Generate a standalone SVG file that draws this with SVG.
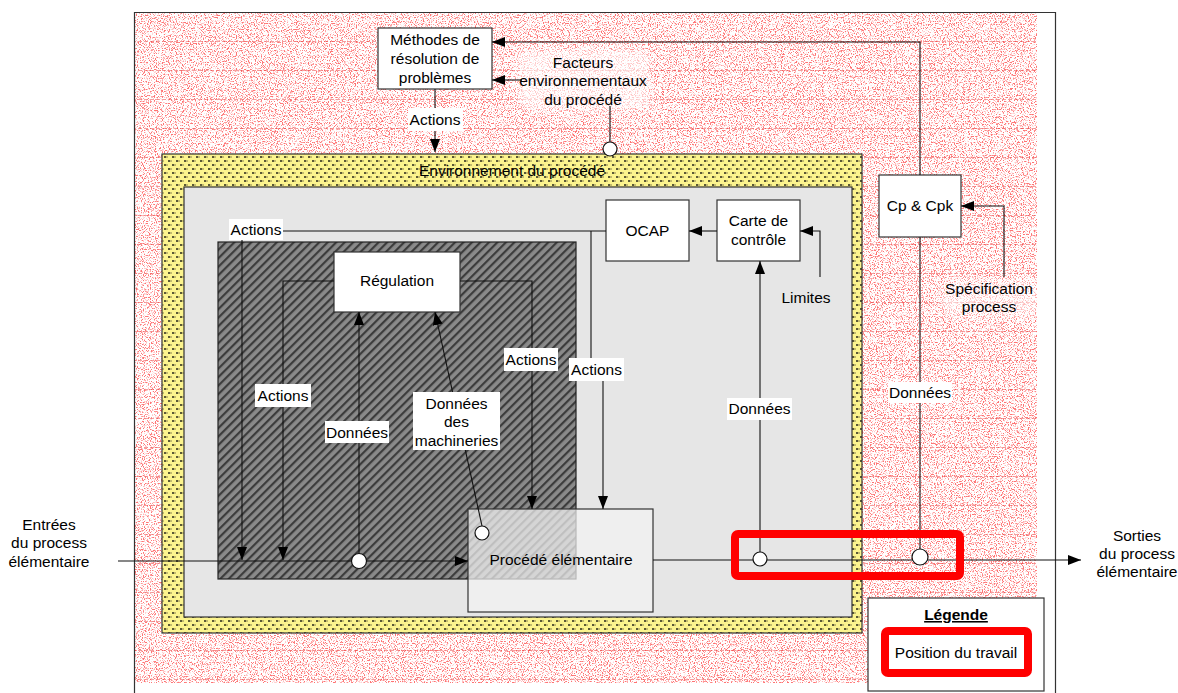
<svg xmlns="http://www.w3.org/2000/svg" width="1178" height="693" viewBox="0 0 1178 693">
<style>
text{font-family:"Liberation Sans",Arial,sans-serif;font-size:15.5px;fill:#000;text-anchor:middle}
.box{fill:#fff;stroke:#333;stroke-width:1.2}
.ln{fill:none;stroke:#111;stroke-width:1.1}
.ar{marker-end:url(#ah)}
.lbl{fill:#fff}
.dot{fill:#fff;stroke:#111;stroke-width:1.2}
.pos{fill:none;stroke:#f00;stroke-width:8}
</style>
<defs>
<marker id="ah" markerUnits="userSpaceOnUse" markerWidth="13" markerHeight="10" refX="13" refY="5" orient="auto">
<path d="M0,0 L13,5 L0,10 z" fill="#000"/>
</marker>
<filter id="stip" x="0" y="0" width="100%" height="100%" color-interpolation-filters="sRGB">
<feTurbulence type="fractalNoise" baseFrequency="0.85" numOctaves="2" seed="7" result="n"/>
<feColorMatrix in="n" type="matrix" values="0 0 0 0 1  0 0 0 0 0.45  0 0 0 0 0.45  6 0 0 0 -3.05" result="d"/>
<feFlood flood-color="#fff" result="w"/>
<feMerge><feMergeNode in="w"/><feMergeNode in="d"/></feMerge>
</filter>
<filter id="soft" x="-20%" y="-20%" width="140%" height="140%">
<feGaussianBlur stdDeviation="4"/>
</filter>
<pattern id="rl" patternUnits="userSpaceOnUse" x="0" y="13" width="6" height="29">
<rect x="0" y="28.5" width="4" height="1.2" fill="#e84040"/>
</pattern>
<pattern id="yl" patternUnits="userSpaceOnUse" width="8" height="8">
<rect width="8" height="8" fill="#fcf48e"/>
<rect x="0" y="0" width="2" height="2" fill="#5a5836"/>
<rect x="4" y="4" width="2" height="2" fill="#5a5836"/>
<rect x="2" y="0" width="2" height="2" fill="#c2ba6e"/>
<rect x="6" y="4" width="2" height="2" fill="#c2ba6e"/>
</pattern>
<pattern id="hatch" patternUnits="userSpaceOnUse" width="6" height="6" patternTransform="rotate(45)">
<rect width="6" height="6" fill="#8a8a8a"/>
<rect x="0" y="0" width="2.2" height="6" fill="#3c3c3c"/>
</pattern>
</defs>

<rect width="1178" height="693" fill="#fff"/>

<g id="frame">
<rect x="135" y="13" width="902" height="670" filter="url(#stip)"/>
<rect x="135" y="13" width="902" height="670" fill="url(#rl)"/>
<rect x="518" y="50" width="132" height="60" rx="10" fill="#fff" opacity="0.6" filter="url(#soft)"/>
<rect x="942" y="280" width="96" height="36" rx="8" fill="#fff" opacity="0.5" filter="url(#soft)"/>
<path d="M134.5,693 V12.5 H1055.5 V693" fill="none" stroke="#333" stroke-width="1.2"/>
</g>

<g id="environnement">
<rect x="162" y="154" width="700" height="479" fill="url(#yl)" stroke="#333" stroke-width="1.2"/>
<rect x="184" y="187" width="668" height="430" fill="#e6e6e6" stroke="#333" stroke-width="1.2"/>
<text x="512" y="176">Environnement du procédé</text>
</g>

<g id="zone-regulation">
<rect x="218" y="242" width="358" height="337" fill="url(#hatch)" stroke="#222" stroke-width="1.2"/>
</g>

<g id="methodes">
<rect class="box" x="378" y="28" width="114" height="61"/>
<text x="435" y="45">Méthodes de</text>
<text x="435" y="64">résolution de</text>
<text x="435" y="83">problèmes</text>
</g>

<g id="cp-cpk">
<rect class="box" x="879" y="175" width="82" height="62"/>
<text x="920" y="211">Cp &amp; Cpk</text>
</g>

<g id="ocap">
<rect class="box" x="606" y="200" width="83" height="61"/>
<text x="647.5" y="236">OCAP</text>
</g>

<g id="carte-controle">
<rect class="box" x="717" y="200" width="83" height="61"/>
<text x="758.5" y="226">Carte de</text>
<text x="758.5" y="245">contrôle</text>
</g>

<g id="regulation">
<rect class="box" x="334" y="252" width="126" height="60"/>
<text x="397" y="286">Régulation</text>
</g>

<g id="procede">
<rect x="468" y="509" width="185" height="103" fill="#f2f2f2" fill-opacity="0.72" stroke="#333" stroke-width="1.2"/>
<text x="561" y="565">Procédé élémentaire</text>
</g>

<g id="connectors">
<path class="ln ar" d="M920,175 V42 H492"/>
<path class="ln ar" d="M522,80 H492"/>
<path class="ln" d="M610,142 V106"/>
<path class="ln ar" d="M435,89 V152"/>
<path class="ln ar" d="M1004,277 V206 H961"/>
<path class="ln" d="M920,237 V549"/>
<path class="ln ar" d="M820,277 V231 H800"/>
<path class="ln ar" d="M717,231 H689"/>
<path class="ln ar" d="M760,552 V261"/>
<path class="ln" d="M606,231 H283"/>
<path class="ln ar" d="M242,240 V560"/>
<path class="ln" d="M591,231 V358"/>
<path class="ln ar" d="M603,381 V509"/>
<path class="ln ar" d="M334,281 H283 V560"/>
<path class="ln ar" d="M460,281 H532 V509"/>
<path class="ln ar" d="M359,554 V312"/>
<path class="ln ar" d="M482,526 L435,312"/>
<path class="ln ar" d="M118,561 H468"/>
<path class="ln ar" d="M653,560 H1081"/>
<circle class="dot" cx="610" cy="149" r="7"/>
<circle class="dot" cx="359" cy="561" r="7.5"/>
<circle class="dot" cx="482" cy="533" r="7"/>
<circle class="dot" cx="760" cy="559" r="7"/>
<circle class="dot" cx="920" cy="557" r="8"/>
</g>

<g id="labels">
<rect class="lbl" x="408" y="108" width="55" height="23"/>
<text x="435" y="125">Actions</text>
<rect class="lbl" x="229" y="219" width="54" height="21"/>
<text x="256" y="235">Actions</text>
<rect class="lbl" x="255" y="384" width="56" height="23"/>
<text x="283" y="401">Actions</text>
<rect class="lbl" x="504" y="348" width="54" height="23"/>
<text x="531" y="365">Actions</text>
<rect class="lbl" x="569" y="358" width="55" height="23"/>
<text x="596.5" y="375">Actions</text>
<rect class="lbl" x="325" y="421" width="64" height="22"/>
<text x="357" y="438">Données</text>
<rect class="lbl" x="413" y="392" width="87" height="58"/>
<text x="456.5" y="409">Données</text>
<text x="456.5" y="427">des</text>
<text x="456.5" y="446">machineries</text>
<rect class="lbl" x="727" y="398" width="65" height="22"/>
<text x="759.5" y="414">Données</text>
<rect class="lbl" x="888" y="382" width="64" height="21"/>
<text x="920" y="398">Données</text>
<text x="806" y="303">Limites</text>
<text x="989" y="294">Spécification</text>
<text x="989" y="312">process</text>
<text x="583" y="68">Facteurs</text>
<text x="583" y="86">environnementaux</text>
<text x="583" y="105">du procédé</text>
<text x="49" y="530">Entrées</text>
<text x="49" y="548">du process</text>
<text x="49" y="567">élémentaire</text>
<text x="1137" y="541">Sorties</text>
<text x="1137" y="559">du process</text>
<text x="1137" y="577">élémentaire</text>
</g>

<g id="position-travail">
<rect class="pos" x="735" y="534" width="225" height="42" rx="3"/>
</g>

<g id="legende">
<rect x="868" y="598" width="176" height="93" fill="#fff" stroke="#333" stroke-width="1.2"/>
<text x="956" y="620" font-weight="bold" text-decoration="underline">Légende</text>
<rect class="pos" x="885" y="631" width="143" height="42" rx="3"/>
<text x="956" y="658">Position du travail</text>
</g>
</svg>
